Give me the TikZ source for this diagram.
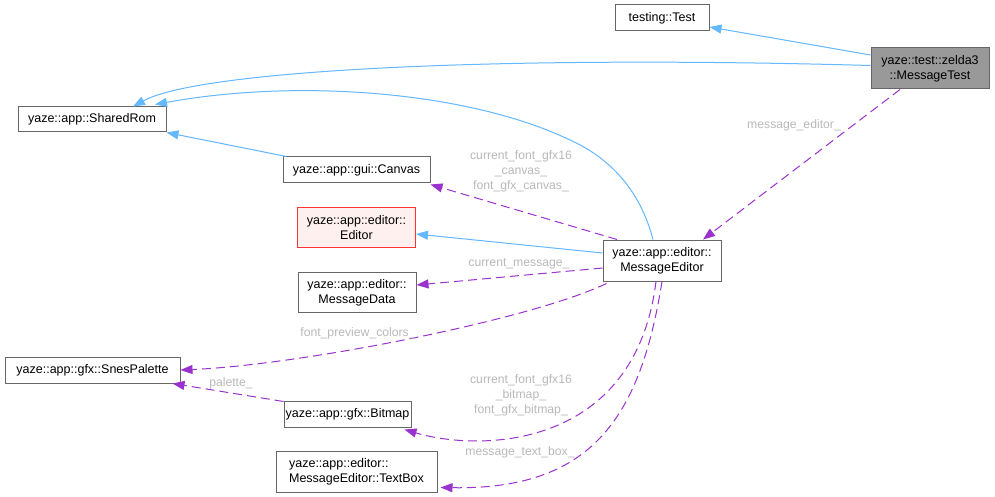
\documentclass[tikz,border=0pt]{standalone}
\usepackage{fontspec}
\setmainfont{Liberation Sans}
\usetikzlibrary{arrows.meta}
\definecolor{inh}{RGB}{99,184,255}
\definecolor{use}{RGB}{154,50,205}
\definecolor{lbl}{RGB}{185,185,185}
\definecolor{bord}{RGB}{102,102,102}
\definecolor{redb}{RGB}{255,51,51}
\definecolor{redf}{RGB}{255,240,240}
\definecolor{grayf}{RGB}{153,153,153}
\begin{document}
\begin{tikzpicture}[x=1pt,y=-1pt,
  box/.style={draw=bord,line width=1pt,fill=white,inner sep=0pt,align=center,
    font=\fontsize{12.5}{15}\selectfont},
  inhe/.style={draw=inh,line width=1pt,-{Triangle[length=12pt,width=9pt]}},
  usee/.style={draw=use,line width=1pt,dash pattern=on 9pt off 5pt,-{Triangle[length=12pt,width=9pt]}},
  elab/.style={text=lbl,align=center,inner sep=0pt,font=\fontsize{12.2}{15}\selectfont}]
\useasboundingbox (0,0) rectangle (995,497);
\fill[white] (0,0) rectangle (995,497);

\node[box,minimum width=94pt,minimum height=26pt] (test) at (662,18) {testing::Test};
\node[box,fill=grayf,minimum width=118pt,minimum height=41pt] (mtest) at (930,68.5) {yaze::test::zelda3\\::MessageTest};
\node[box,minimum width=148pt,minimum height=25pt] (srom) at (92,119.5) {yaze::app::SharedRom};
\node[box,minimum width=147pt,minimum height=26pt] (canvas) at (356.5,170) {yaze::app::gui::Canvas};
\node[box,draw=redb,fill=redf,minimum width=118pt,minimum height=40pt] (editor) at (356.5,227.5) {yaze::app::editor::\\Editor};
\node[box,minimum width=118pt,minimum height=41pt] (medit) at (662,260.5) {yaze::app::editor::\\MessageEditor};
\node[box,minimum width=118pt,minimum height=40pt] (mdata) at (357,292.5) {yaze::app::editor::\\MessageData};
\node[box,minimum width=175pt,minimum height=26pt] (snes) at (92.5,370) {yaze::app::gfx::SnesPalette};
\node[box,minimum width=127pt,minimum height=26pt] (bitmap) at (347.5,414) {yaze::app::gfx::Bitmap};
\node[box,align=left,minimum width=161pt,minimum height=41pt] (textbox) at (356.5,471.5) {yaze::app::editor::\\MessageEditor::TextBox};

% inheritance
\draw[inhe] ([yshift=13.5pt]mtest.west) -- ([yshift=-9pt]test.east);
\draw[inhe] ([yshift=3pt]mtest.west) .. controls (500,55) and (200,70) .. ([xshift=41pt]srom.north);
\draw[inhe] ([xshift=-9pt]medit.north) .. controls (640,190) and (610,158) .. (570,140)
   .. controls (470,92) and (300,78) .. ([xshift=63pt,yshift=2pt]srom.north);
\draw[inhe] ([xshift=-70pt]canvas.north) -- (srom.south east);
\draw[inhe] ([yshift=7.5pt]medit.west) -- ([yshift=-6.5pt]editor.east);

% usage
\draw[usee] ([xshift=-30pt]mtest.south) -- ([xshift=41pt]medit.north);
\node[elab] (l1) at (794,125) {message\_editor\_};
\draw[usee] ([xshift=-45pt]medit.north) -- ([yshift=-1pt]canvas.south east);
\node[elab] (l2) at (521,171) {current\_font\_gfx16\\\_canvas\_\\font\_gfx\_canvas\_};
\draw[usee] ([yshift=-7.5pt]medit.west) -- ([yshift=7.5pt]mdata.east);
\node[elab] (l3) at (519,264) {current\_message\_};
\draw[usee] ([xshift=4pt,yshift=-2pt]medit.south west) .. controls (530,320) and (300,365) .. (snes.east);
\node[elab] (l4) at (358,333) {font\_preview\_colors\_};
\draw[usee] ([yshift=-1pt]bitmap.north west) -- ([xshift=-8pt]snes.south east);
\node[elab] (l5) at (231,383) {palette\_};
\draw[usee] ([xshift=-6pt]medit.south) .. controls (635,450) and (480,452) .. ([xshift=-7pt,yshift=-2pt]bitmap.south east);
\node[elab] (l6) at (521,395) {current\_font\_gfx16\\\_bitmap\_\\font\_gfx\_bitmap\_};
\draw[usee] (medit.south) .. controls (640,420) and (590,490) .. ([xshift=3pt,yshift=5pt]textbox.south east);
\node[elab] (l7) at (520,452) {message\_text\_box\_};
\end{tikzpicture}
\end{document}
